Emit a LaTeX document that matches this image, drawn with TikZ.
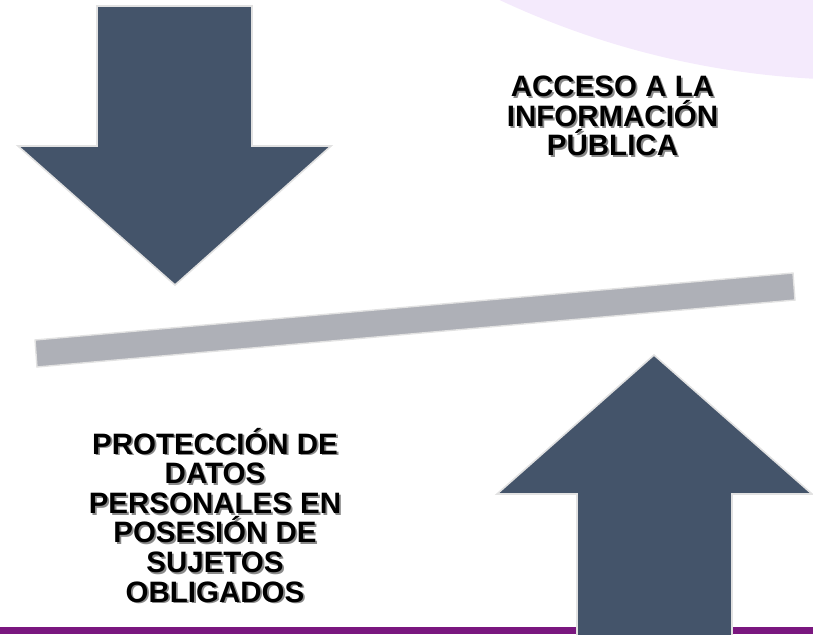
\documentclass[tikz,border=0pt]{standalone}
\usepackage{fontspec}
\setmainfont{Liberation Sans}
\definecolor{arrowfill}{HTML}{44546A}
\definecolor{arrowedge}{HTML}{E2E2E2}
\definecolor{barfill}{HTML}{AEB0B7}
\definecolor{lavender}{HTML}{F4EAFC}
\definecolor{purplebar}{HTML}{7A177F}
\definecolor{shadowgray}{HTML}{8A8A8A}
\newcommand{\shln}[1]{\leavevmode\rlap{\hspace*{1.8pt}\raisebox{-1.8pt}{\textcolor{shadowgray}{#1}}}#1}
\tikzset{
  bigarrow/.style={fill=arrowfill, draw=arrowedge, line width=1.6pt, line join=miter},
  tiltbar/.style={fill=barfill, draw=arrowedge, line width=1.4pt},
  label/.style={align=center, font=\fontsize{29.5}{29.6}\selectfont\bfseries, inner sep=0pt},
}
\begin{document}
\begin{tikzpicture}[x=1pt,y=-1pt]
\useasboundingbox (0,0) rectangle (813,634);
\begin{scope}
\clip (0,0) rectangle (813,634);
% lavender circle top right
\fill[lavender] (860,-770) circle[radius=850];
% purple bottom bar
\fill[purplebar] (0,627) rectangle (813,634);
% down arrow
\draw[bigarrow] (97,6) -- (252,6) -- (252,146) -- (331,146) -- (175,285) -- (18,146) -- (97,146) -- cycle;
% up arrow
\draw[bigarrow] (577,640) -- (577,494) -- (497,494) -- (654,355) -- (812,494) -- (732,494) -- (732,640) -- cycle;
% tilted bar
\draw[tiltbar] (35,340) -- (793,273) -- (795,300) -- (37,367) -- cycle;
\end{scope}
% texts with soft shadow
\node[label] (acceso) at (612.5,117) {\shln{ACCESO A LA}\\\shln{INFORMACIÓN}\\\shln{PÚBLICA}};
\node[label] (proteccion) at (215,516) {\shln{PROTECCIÓN DE}\\\shln{DATOS}\\\shln{PERSONALES EN}\\\shln{POSESIÓN DE}\\\shln{SUJETOS}\\\shln{OBLIGADOS}};
\end{tikzpicture}
\end{document}
